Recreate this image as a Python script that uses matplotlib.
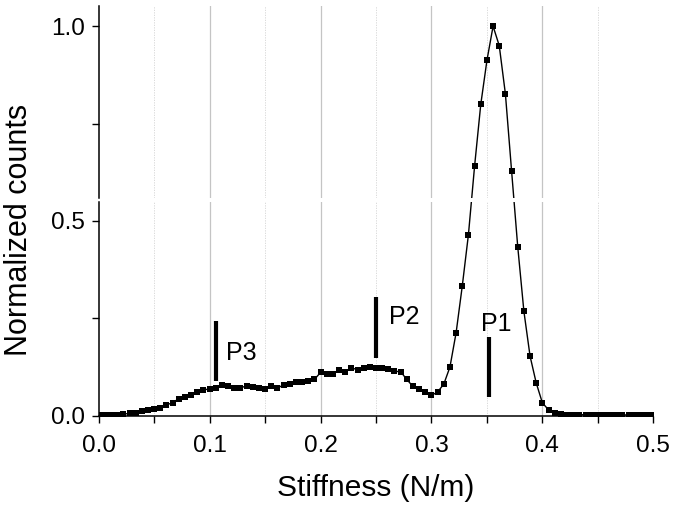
import numpy as np
import matplotlib
matplotlib.use("Agg")
import matplotlib.pyplot as plt
from matplotlib.ticker import MultipleLocator

# ---- data ----
n_bins = 91
stiffness = np.linspace(0.0, 0.5, n_bins)
counts = [
    0.002, 0.002, 0.003, 0.003, 0.004, 0.006, 0.008, 0.011, 0.014, 0.017,
    0.021, 0.028, 0.033, 0.044, 0.048, 0.054, 0.060, 0.066, 0.069, 0.072,
    0.079, 0.075, 0.072, 0.071, 0.077, 0.074, 0.070, 0.068, 0.076, 0.071,
    0.079, 0.081, 0.087, 0.087, 0.088, 0.093, 0.111, 0.106, 0.108, 0.117,
    0.112, 0.123, 0.118, 0.122, 0.126, 0.123, 0.122, 0.119, 0.114, 0.113,
    0.093, 0.075, 0.069, 0.060, 0.052, 0.061, 0.081, 0.125, 0.213, 0.333,
    0.465, 0.641, 0.799, 0.912, 1.000, 0.950, 0.826, 0.629, 0.434, 0.268,
    0.153, 0.084, 0.033, 0.015, 0.006, 0.004, 0.003, 0.003, 0.003, 0.002,
    0.002, 0.002, 0.002, 0.002, 0.002, 0.002, 0.002, 0.002, 0.002, 0.002,
    0.002,
]
peak_labels = ["P3", "P2", "P1"]
peak_x = [0.1055, 0.250, 0.3516]
peak_bar_lo = [0.088, 0.147, 0.047]
peak_bar_hi = [0.244, 0.304, 0.201]
label_x = [0.1148, 0.2617, 0.3585]
label_y = [0.162, 0.253, 0.236]
label_ha = ["left", "left", "center"]

x_ticks = [0.0, 0.1, 0.2, 0.3, 0.4, 0.5]
x_tick_labels = ["0.0", "0.1", "0.2", "0.3", "0.4", "0.5"]

# ---- figure ----
plt.rcParams['font.family'] = ['Liberation Sans', 'DejaVu Sans']
fig = plt.figure(figsize=(6.78, 5.12), dpi=100)

left = 98.7 / 678
width = 554.6 / 678
ax_b = fig.add_axes([left, (512 - 415.7) / 512, width, (415.7 - 202) / 512])
ax_t = fig.add_axes([left, (512 - 198) / 512, width, (198 - 6) / 512])

y_split_lo = (415.7 - 202) / 389.5
y_split_hi = (415.7 - 198) / 389.5
ax_b.set_ylim(0, y_split_lo)
ax_t.set_ylim(y_split_hi, (415.7 - 6) / 389.5)

for ax in (ax_b, ax_t):
    ax.set_xlim(0, 0.5)
    ax.plot(stiffness, counts, color='black', lw=1.0, marker='s',
            markersize=3.7, markeredgewidth=0, zorder=3)
    for gx in [0.1, 0.2, 0.3, 0.4]:
        ax.axvline(gx, color='#c4c4c4', lw=0.9, zorder=0)
    for gx in [0.05, 0.15, 0.25, 0.35, 0.45]:
        ax.axvline(gx, color='#d4d4d4', lw=0.6, ls=(0, (1.5, 1.5)), zorder=0)
    ax.spines['top'].set_visible(False)
    ax.spines['right'].set_visible(False)
    ax.spines['left'].set_linewidth(1.1)
    ax.yaxis.set_major_locator(MultipleLocator(0.5))
    ax.yaxis.set_minor_locator(MultipleLocator(0.25))
    ax.tick_params(axis='y', which='both', direction='out', length=5,
                   width=1.0, labelsize=17.5, pad=5)
    ax.yaxis.set_major_formatter(matplotlib.ticker.FormatStrFormatter('%.1f'))

ax_t.spines['bottom'].set_visible(False)
ax_t.set_xticks([])
ax_t.tick_params(axis='x', which='both', bottom=False, labelbottom=False)

ax_b.spines['bottom'].set_linewidth(1.1)
ax_b.set_xticks(x_ticks)
ax_b.set_xticklabels(x_tick_labels)
ax_b.xaxis.set_minor_locator(MultipleLocator(0.05))
ax_b.tick_params(axis='x', which='both', direction='out', length=5,
                 width=1.0, labelsize=17.5, pad=9)
ax_b.set_xlabel("Stiffness (N/m)", fontsize=21.5, labelpad=12)

for lab, px, lo, hi, lx, ly, ha in zip(peak_labels, peak_x, peak_bar_lo,
                                       peak_bar_hi, label_x, label_y, label_ha):
    ax_b.plot([px, px], [lo, hi], color='black', lw=3.0,
              solid_capstyle='butt', zorder=4)
    ax_b.text(lx, ly, lab, fontsize=18, ha=ha, va='center', zorder=5)

fig.text(19 / 678, 1 - 230 / 512, "Normalized counts", rotation=90,
         fontsize=22, ha='center', va='center')

fig.savefig("out.png", dpi=100)
